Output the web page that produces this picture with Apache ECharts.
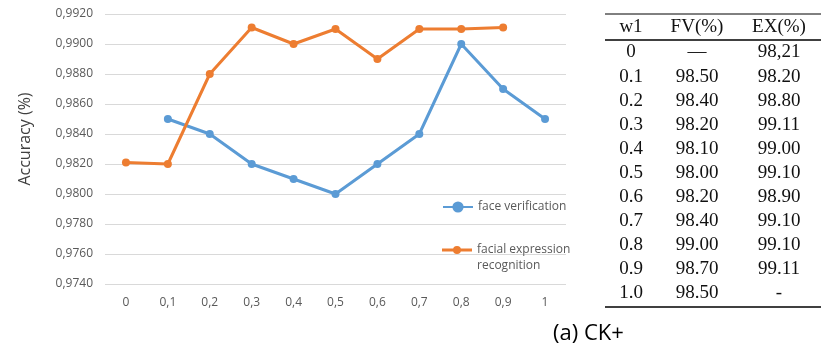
<!DOCTYPE html>
<html>
<head>
<meta charset="utf-8">
<script src="https://cdn.jsdelivr.net/npm/echarts@6/dist/echarts.min.js"></script>
<style>
html,body{margin:0;padding:0;background:#fff;}
#c{width:830px;height:355px;}
</style>
</head>
<body>
<div id="c"></div>
<script>
const categories = ['0','0,1','0,2','0,3','0,4','0,5','0,6','0,7','0,8','0,9','1'];
const faceVerification = [null, 0.9850, 0.9840, 0.9820, 0.9810, 0.9800, 0.9820, 0.9840, 0.9900, 0.9870, 0.9850];
const facialExpression = [0.9821, 0.9820, 0.9880, 0.9911, 0.9900, 0.9910, 0.9890, 0.9910, 0.9910, 0.9911, null];
const seriesNames = ['face verification', 'facial expression recognition'];
const yMin = 0.974, yMax = 0.992, yStep = 0.002;

const tableHeader = ['w1', 'FV(%)', 'EX(%)'];
const tableW1 = ['0','0.1','0.2','0.3','0.4','0.5','0.6','0.7','0.8','0.9','1.0'];
const tableFV = ['\u2014','98.50','98.40','98.20','98.10','98.00','98.20','98.40','99.00','98.70','98.50'];
const tableEX = ['98,21','98.20','98.80','99.11','99.00','99.10','98.90','99.10','99.10','99.11','-'];
const caption = '(a) CK+';

const chart = echarts.init(document.getElementById('c'), null, {renderer: 'canvas'});

const serifFont = '"Liberation Serif", "DejaVu Serif", serif';
const colX = [631, 697, 779];
const tblLeft = 605, tblRight = 821;
const graphics = [];
graphics.push({type:'line', shape:{x1:tblLeft, y1:14, x2:tblRight, y2:14}, style:{stroke:'#000', lineWidth:1}});
graphics.push({type:'line', shape:{x1:tblLeft, y1:40, x2:tblRight, y2:40}, style:{stroke:'#000', lineWidth:1.6}});
graphics.push({type:'line', shape:{x1:tblLeft, y1:307, x2:tblRight, y2:307}, style:{stroke:'#000', lineWidth:1.4}});
tableHeader.forEach((h, j) => {
  graphics.push({type:'text', x: colX[j], y: 27, style:{text:h, font:'19px ' + serifFont, fill:'#111', align:'center', verticalAlign:'middle'}});
});
const cols = [tableW1, tableFV, tableEX];
for (let i = 0; i < tableW1.length; i++) {
  const y = 52.5 + i * 24.05;
  cols.forEach((col, j) => {
    graphics.push({type:'text', x: colX[j], y: y, style:{text: col[i], font:'19px ' + serifFont, fill:'#111', align:'center', verticalAlign:'middle'}});
  });
}
graphics.push({type:'text', x: 553, y: 334, style:{text: caption, font:'22px "Open Sans", sans-serif', fill:'#000', align:'left', verticalAlign:'middle'}});

const labelFont = '"Open Sans", sans-serif';
// legend icon: line with circle marker placed at the top of a 30x32 box
const topLineIcon = 'path://M0,0L0.01,0M30,32L29.99,32' +
  'M0,6.6L12,6.6L12,9.4L0,9.4Z' +
  'M18,6.6L30,6.6L30,9.4L18,9.4Z' +
  'M11,8A4,4 0 1,1 19,8A4,4 0 1,1 11,8Z';

chart.setOption({
  animation: false,
  backgroundColor: '#fff',
  grid: {left: 105, right: 264, top: 14, bottom: 71, containLabel: false},
  legend: [
    {
      data: [seriesNames[0]],
      left: 437, top: 196,
      orient: 'vertical',
      itemWidth: 30, itemHeight: 14,
      itemGap: 0,
      textStyle: {color:'#595959', fontSize: 12, fontFamily: labelFont}
    },
    {
      data: [{name: seriesNames[1], icon: topLineIcon}],
      left: 437, top: 237,
      orient: 'vertical',
      itemWidth: 30, itemHeight: 32,
      formatter: function(n){ return 'facial expression\nrecognition'; },
      textStyle: {color:'#595959', fontSize: 12, fontFamily: labelFont, lineHeight: 16}
    }
  ],
  xAxis: {
    type: 'category',
    data: categories,
    boundaryGap: true,
    axisLine: {show: false},
    axisTick: {show: false},
    axisLabel: {color:'#595959', fontSize: 12, fontFamily: labelFont, margin: 13}
  },
  yAxis: {
    type: 'value',
    min: yMin, max: yMax, interval: yStep,
    name: 'Accuracy (%)',
    nameLocation: 'middle',
    nameGap: 72,
    nameRotate: 90,
    nameTextStyle: {color:'#404040', fontSize: 16, fontFamily: labelFont, padding: [0,0,0,20]},
    axisLine: {show: false},
    axisTick: {show: false},
    splitLine: {lineStyle: {color:'#d9d9d9', width: 1}},
    axisLabel: {
      color:'#595959', fontSize: 12, fontFamily: labelFont, margin: 12,
      formatter: function(v){ return v.toFixed(4).replace('.', ','); }
    }
  },
  series: [
    {
      name: seriesNames[0], type: 'line', data: faceVerification,
      color: '#5B9BD5',
      lineStyle: {width: 3, color:'#5B9BD5'},
      itemStyle: {color:'#5B9BD5'},
      symbol: 'circle', symbolSize: 8, showAllSymbol: true,
      connectNulls: false
    },
    {
      name: seriesNames[1], type: 'line', data: facialExpression,
      color: '#ED7D31',
      lineStyle: {width: 3, color:'#ED7D31'},
      itemStyle: {color:'#ED7D31'},
      symbol: 'circle', symbolSize: 8, showAllSymbol: true,
      connectNulls: false
    }
  ],
  graphic: graphics
});
</script>
</body>
</html>
